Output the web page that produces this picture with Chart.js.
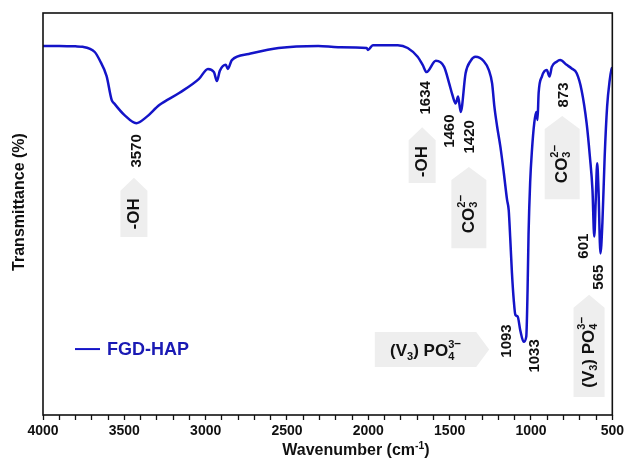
<!DOCTYPE html>
<html>
<head>
<meta charset="utf-8">
<script src="https://cdn.jsdelivr.net/npm/chart.js@4"></script>
<style>
  html, body { margin: 0; padding: 0; background: #fff; }
  #wrap { width: 627px; height: 469px; }
</style>
</head>
<body>
<div id="wrap"><canvas id="ftir"></canvas></div>
<script>
const FONT = '"Liberation Sans", Arial, Helvetica, sans-serif';
const LINE_BLUE = '#1414c8';
const TEXT_BLUE = '#1a1ab4';
const BOX_GREY = '#eeeeee';

/* ── DATA ─────────────────────────────────────────────── */
const seriesName = 'FGD-HAP';
const wavenumber = [4000, 3900, 3800, 3756, 3682, 3652, 3609, 3578, 3560, 3499,
  3426, 3365, 3285, 3163, 3041, 2986, 2949, 2931, 2913, 2876,
  2864, 2839, 2735, 2552, 2308, 2186, 2010, 2002, 1972, 1819,
  1758, 1697, 1666, 1642, 1585, 1534, 1503, 1483, 1463, 1448,
  1432, 1402, 1371, 1341, 1290, 1259, 1239, 1225, 1208, 1188,
  1167, 1147, 1137, 1127, 1117, 1106, 1096, 1082, 1066, 1045,
  1029, 1021, 1015, 1005, 994, 980, 968, 960, 953, 933,
  903, 886, 872, 842, 821, 781, 750, 719, 689, 658,
  638, 622, 611, 602, 593, 585, 573, 561, 547, 532,
  516, 506, 500];
const transmittance = [91.8, 91.8, 91.7, 91.6, 90.3, 88.3, 84.3, 78.4, 77.4, 74.6,
  72.6, 74.1, 77.1, 80.1, 83.6, 86.1, 85.3, 83.1, 85.6, 87.1,
  86.1, 88.3, 89.8, 91.3, 91.8, 91.5, 91.3, 90.8, 92.0, 92.0,
  91.3, 89.1, 87.1, 85.3, 88.1, 86.6, 82.5, 79.6, 77.5, 79.2,
  75.4, 85.0, 88.1, 89.1, 88.0, 85.8, 82.5, 76.7, 71.7, 66.7,
  60.2, 53.5, 51, 43.5, 35.3, 28.6, 24.9, 24.5, 21.1, 18.2,
  19.5, 31.1, 45, 58, 65.9, 72.6, 75.4, 73.4, 80.1, 84.2,
  85.8, 84.2, 86.6, 87.9, 88.3, 87.1, 86.2, 85.0, 80.8, 72.6,
  64.3, 56, 44.4, 53.5, 62.6, 56, 40.2, 47.8, 64.3, 76.7,
  83.3, 85.8, 86.5];

const peakNames = ['3570', '1634', '1460', '1420', '873', '601', '565', '1093', '1033'];

/* ── ANNOTATION LAYOUT (data coords) ──────────────────── */
const peakTags = [
  { w: 3426, t: 65.7 }, { w: 1648, t: 78.9 }, { w: 1501, t: 70.6 }, { w: 1373, t: 69.2 },
  { w: 799, t: 79.6 }, { w: 677, t: 42 }, { w: 585, t: 34.3 }, { w: 1147, t: 18.4 }, { w: 976, t: 14.7 }
];

const OH  = [{ t: '-OH' }];
const CO3 = [{ t: 'CO' }, { t: '3', s: .65, dy: .3, stack: true }, { t: '2', s: .65, dy: -.4 }, { t: '–', s: .7, dy: -.45 }];
const PO4 = [{ t: '(V' }, { t: '3', s: .65, dy: .3 }, { t: ') PO' }, { t: '4', s: .65, dy: .3, stack: true }, { t: '3', s: .65, dy: -.4 }, { t: '–', s: .7, dy: -.45 }];

const HEAD = 13;
const tagBoxes = [
  { dir: 'up', at: 3441, from: 59, to: 44.3, size: 27, parts: OH },
  { dir: 'up', at: 1669, from: 71.6, to: 57.7, size: 27, parts: OH },
  { dir: 'up', at: 1382, from: 61.7, to: 41.5, size: 35, parts: CO3 },
  { dir: 'up', at: 808, from: 74.4, to: 53.7, size: 35, parts: CO3 },
  { dir: 'up', at: 643, from: 29.9, to: 4.5, size: 31, parts: PO4 },
  { dir: 'right', at: 16.3, from: 1960, to: 1257, size: 35, parts: PO4 }
];

/* ── HELPERS ──────────────────────────────────────────── */
function drawParts(ctx, parts, size, cx, cy, angle, color) {
  ctx.save();
  ctx.translate(cx, cy);
  ctx.rotate(angle);
  ctx.fillStyle = color;
  ctx.textBaseline = 'middle';
  ctx.textAlign = 'left';
  let total = 0;
  const widths = parts.map(p => {
    ctx.font = `bold ${size * (p.s || 1)}px ${FONT}`;
    const w = ctx.measureText(p.t).width;
    if (!p.stack) total += w;
    return w;
  });
  let x = -total / 2;
  parts.forEach((p, i) => {
    ctx.font = `bold ${size * (p.s || 1)}px ${FONT}`;
    ctx.fillText(p.t, x, (p.dy || 0) * size);
    if (!p.stack) x += widths[i];
  });
  ctx.restore();
}

function boxGeom(b, xs, ys) {
  if (b.dir === 'up') {
    const cx = xs.getPixelForValue(b.at), tip = ys.getPixelForValue(b.from), end = ys.getPixelForValue(b.to);
    const h = b.size / 2;
    return {
      pts: [[cx, tip], [cx + h, tip + HEAD], [cx + h, end], [cx - h, end], [cx - h, tip + HEAD]],
      tx: cx, ty: (tip + HEAD + end) / 2, angle: -Math.PI / 2
    };
  }
  const cy = ys.getPixelForValue(b.at), l = xs.getPixelForValue(b.from), tip = xs.getPixelForValue(b.to);
  const h = b.size / 2;
  return {
    pts: [[l, cy - h], [tip - HEAD, cy - h], [tip, cy], [tip - HEAD, cy + h], [l, cy + h]],
    tx: (l + tip - HEAD) / 2, ty: cy + 2, angle: 0
  };
}

const annotate = {
  id: 'annotate',
  beforeDatasetsDraw(chart) {
    const { ctx, scales: { x, y } } = chart;
    ctx.save();
    ctx.fillStyle = BOX_GREY;
    tagBoxes.forEach(b => {
      const g = boxGeom(b, x, y);
      ctx.beginPath();
      g.pts.forEach((p, i) => i ? ctx.lineTo(p[0], p[1]) : ctx.moveTo(p[0], p[1]));
      ctx.closePath();
      ctx.fill();
    });
    ctx.restore();
  },
  afterDraw(chart) {
    const { ctx, chartArea: a, scales: { x, y } } = chart;

    // frame
    ctx.save();
    ctx.strokeStyle = '#111';
    ctx.lineWidth = 1.6;
    ctx.strokeRect(a.left, a.top, a.right - a.left, a.bottom - a.top);
    ctx.restore();

    // box texts
    tagBoxes.forEach(b => {
      const g = boxGeom(b, x, y);
      drawParts(ctx, b.parts, 17, g.tx, g.ty, g.angle, '#111');
    });

    // peak numbers
    peakTags.forEach((p, i) => {
      drawParts(ctx, [{ t: peakNames[i] }], 15, x.getPixelForValue(p.w), y.getPixelForValue(p.t), -Math.PI / 2, '#111');
    });

    // legend
    const ly = y.getPixelForValue(16.4);
    ctx.save();
    ctx.strokeStyle = LINE_BLUE;
    ctx.lineWidth = 2;
    ctx.beginPath();
    ctx.moveTo(a.left + 32, ly);
    ctx.lineTo(a.left + 57, ly);
    ctx.stroke();
    ctx.fillStyle = TEXT_BLUE;
    ctx.font = `bold 18px ${FONT}`;
    ctx.textBaseline = 'middle';
    ctx.fillText(chart.data.datasets[0].label, a.left + 64, ly + 1);
    ctx.restore();

    // axis titles
    drawParts(ctx, [{ t: 'Wavenumber (cm' }, { t: '-1', s: .65, dy: -.3 }, { t: ')' }], 16,
      x.getPixelForValue(2076), 451, 0, '#111');
    drawParts(ctx, [{ t: 'Transmittance (%)' }], 16, 20, 202, -Math.PI / 2, '#111');
  }
};

/* ── CHART ────────────────────────────────────────────── */
new Chart(document.getElementById('ftir'), {
  type: 'line',
  data: {
    datasets: [{
      label: seriesName,
      data: wavenumber.map((w, i) => ({ x: w, y: transmittance[i] })),
      borderColor: LINE_BLUE,
      borderWidth: 2.5,
      pointRadius: 0,
      cubicInterpolationMode: 'monotone',
      fill: false
    }]
  },
  options: {
    responsive: true,
    maintainAspectRatio: false,
    animation: false,
    devicePixelRatio: 1,
    layout: { padding: { left: 43, top: 13, right: 11, bottom: 0 } },
    plugins: { legend: { display: false }, tooltip: { enabled: false } },
    scales: {
      x: {
        type: 'linear', reverse: true, min: 500, max: 4000,
        border: { display: false },
        grid: { display: true, drawOnChartArea: false, drawTicks: true, tickLength: 5, tickColor: '#111', tickWidth: 1.3 },
        ticks: {
          stepSize: 100, autoSkip: false, maxRotation: 0, padding: 3, color: '#111',
          font: { family: FONT, size: 14, weight: 'bold' },
          callback: v => v % 500 === 0 ? v : ''
        },
        afterFit: s => { s.height = 54; }
      },
      y: { display: false, min: 0, max: 100 }
    }
  },
  plugins: [annotate]
});
</script>
</body>
</html>
